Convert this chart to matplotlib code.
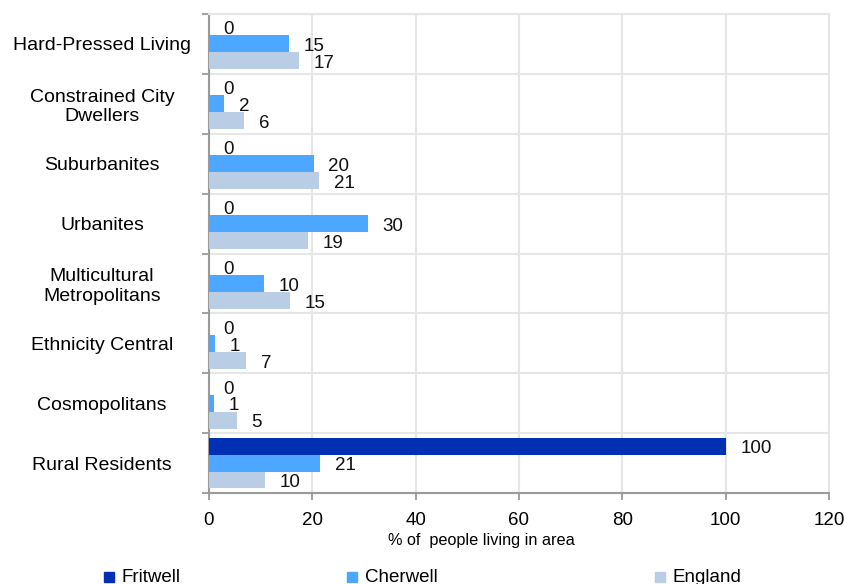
import matplotlib
matplotlib.use("Agg")

import matplotlib.pyplot as plt
from matplotlib.patches import Rectangle
import numpy as np

plt.rcParams["font.family"] = ["Liberation Sans", "DejaVu Sans"]

# Data
categories = [
    "Hard-Pressed Living",
    "Constrained City\nDwellers",
    "Suburbanites",
    "Urbanites",
    "Multicultural\nMetropolitans",
    "Ethnicity Central",
    "Cosmopolitans",
    "Rural Residents",
]
series_names = ["Fritwell", "Cherwell", "England"]
fritwell = [0, 0, 0, 0, 0, 0, 0, 100]
cherwell = [15.5, 2.9, 20.3, 30.8, 10.6, 1.2, 1.0, 21.5]
england = [17.5, 6.8, 21.3, 19.2, 15.7, 7.2, 5.4, 10.9]
fritwell_labels = [0, 0, 0, 0, 0, 0, 0, 100]
cherwell_labels = [15, 2, 20, 30, 10, 1, 1, 21]
england_labels = [17, 6, 21, 19, 15, 7, 5, 10]
x_ticks = [0, 20, 40, 60, 80, 100, 120]

colors = ["#0230B2", "#4DA6FF", "#B9CDE5"]
GRID = "#E6E6E6"
AXIS = "#9A9A9A"

W, H = 845, 584
fig = plt.figure(figsize=(W / 100, H / 100), dpi=100)
ax = fig.add_axes([209 / W, 1 - 493 / H, 620 / W, 479 / H])

y = np.arange(len(categories))
bh = 0.283
all_vals = [fritwell, cherwell, england]
all_labels = [fritwell_labels, cherwell_labels, england_labels]
for i, (vals, labs) in enumerate(zip(all_vals, all_labels)):
    pos = y + (i - 1) * bh
    ax.barh(pos, vals, height=bh, color=colors[i], zorder=3)
    for p, v, lab in zip(pos, vals, labs):
        ax.annotate(str(lab), (v, p), xytext=(10.5, -2), textcoords="offset points",
                    ha="left", va="center", fontsize=13.5, color="#111111", zorder=4)

ax.set_xlim(0, 120)
ax.set_ylim(len(categories) - 0.5, -0.5)
ax.set_xticks(x_ticks)
ax.set_xticklabels([str(t) for t in x_ticks], fontsize=13.5)

ax.set_yticks(y)
ax.set_yticklabels(categories, fontsize=14, ha="center", multialignment="center")
ax.set_yticks(np.arange(-0.5, len(categories), 1.0), minor=True)
ax.tick_params(axis="y", which="major", length=0, pad=77)
ax.tick_params(axis="y", which="minor", length=5, width=1.3, color=AXIS, direction="out")
ax.tick_params(axis="x", which="major", length=5, width=1.3, color=AXIS, pad=9)

ax.grid(axis="x", which="major", color=GRID, linewidth=1.5, zorder=0)
ax.grid(axis="y", which="minor", color=GRID, linewidth=1.5, zorder=0)
ax.set_axisbelow(True)

for side in ["top", "right"]:
    ax.spines[side].set_color(GRID)
    ax.spines[side].set_linewidth(1.5)
for side in ["left", "bottom"]:
    ax.spines[side].set_color(AXIS)
    ax.spines[side].set_linewidth(1.5)

ax.set_xlabel("% of  people living in area", fontsize=11.7)
ax.xaxis.set_label_coords((481 - 209) / 620, -48 / 479)
ax.xaxis.label.set_va("center")

# legend along the bottom edge
legend_x = [104, 347, 655]
for name, c, lx in zip(series_names, colors, legend_x):
    fig.patches.append(Rectangle((lx / W, 1 - 582 / H), 10 / W, 10 / H,
                                 transform=fig.transFigure, color=c))
    fig.text((lx + 18) / W, 1 - 577 / H, name, fontsize=13.5, va="center", ha="left")

fig.savefig("out.png", dpi=100)
